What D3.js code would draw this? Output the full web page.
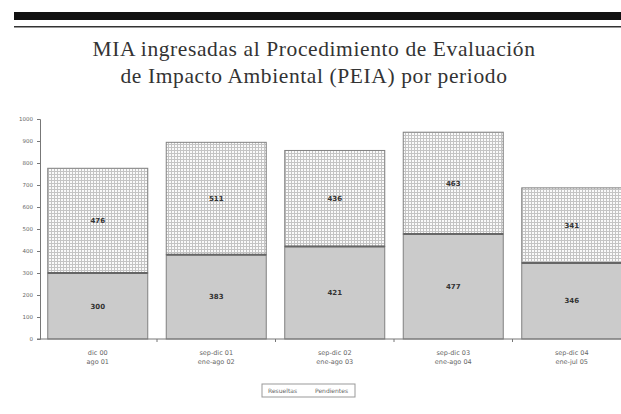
<!DOCTYPE html>
<html>
<head>
<meta charset="utf-8">
<script src="https://cdn.jsdelivr.net/npm/d3@7"></script>
<style>
  body { margin: 0; background: #fff; }
  svg { display: block; }
</style>
</head>
<body>
<svg id="chart" width="621" height="414"></svg>
<script>
// ── Data ──────────────────────────────────────────────────────────────────────
const periods = [
  ['dic 00', 'ago 01'],
  ['sep-dic 01', 'ene-ago 02'],
  ['sep-dic 02', 'ene-ago 03'],
  ['sep-dic 03', 'ene-ago 04'],
  ['sep-dic 04', 'ene-jul 05'],
];
const lower = [300, 383, 421, 477, 346];   // gray segment
const upper = [476, 511, 436, 463, 341];   // grid segment
const seriesNames = ['Resueltas', 'Pendientes'];
const yTicks = d3.range(0, 1001, 100);

// ── Layout ────────────────────────────────────────────────────────────────────
const svg = d3.select('#chart');
const W = 621, H = 414;
const x0 = 40, y0 = 339, yTop = 119;

const x = d3.scaleBand().domain(d3.range(periods.length))
  .range([38.5, 631]).paddingInner(0.156).paddingOuter(0.078);
const y = d3.scaleLinear().domain([0, 1000]).range([y0, yTop]);

// grid pattern for upper segment
const defs = svg.append('defs');
const pat = defs.append('pattern').attr('id', 'grid')
  .attr('width', 3).attr('height', 3).attr('patternUnits', 'userSpaceOnUse');
pat.append('rect').attr('width', 3).attr('height', 3).attr('fill', '#fafafa');
pat.append('path').attr('d', 'M0,0.5H3M0.5,0V3')
  .attr('stroke', '#c4c4c4').attr('stroke-width', 1);

// header rules
svg.append('rect').attr('x', 14).attr('y', 12).attr('width', W - 14).attr('height', 8).attr('fill', '#111');
svg.append('rect').attr('x', 14).attr('y', 26).attr('width', W - 14).attr('height', 1.5).attr('fill', '#333');

// title
const title = svg.append('text').attr('text-anchor', 'middle')
  .attr('font-family', 'Liberation Serif, Times New Roman, serif')
  .attr('font-size', 21.5).attr('letter-spacing', 0.6).attr('fill', '#333');
title.append('tspan').attr('x', 314).attr('y', 56).text('MIA ingresadas al Procedimiento de Evaluación');
title.append('tspan').attr('x', 314).attr('y', 83).text('de Impacto Ambiental (PEIA) por periodo');

// ── Bars ──────────────────────────────────────────────────────────────────────
const bars = svg.append('g');
periods.forEach((p, i) => {
  const bx = x(i), bw = x.bandwidth();
  const total = lower[i] + upper[i];
  bars.append('rect')
    .attr('x', bx).attr('y', y(total))
    .attr('width', bw).attr('height', y(lower[i]) - y(total))
    .attr('fill', 'url(#grid)').attr('stroke', '#808080').attr('stroke-width', 1);
  bars.append('rect')
    .attr('x', bx).attr('y', y(lower[i]))
    .attr('width', bw).attr('height', y0 - y(lower[i]))
    .attr('fill', '#cbcbcb').attr('stroke', '#808080').attr('stroke-width', 1);
  bars.append('line')
    .attr('x1', bx).attr('x2', bx + bw)
    .attr('y1', y(lower[i])).attr('y2', y(lower[i]))
    .attr('stroke', '#666').attr('stroke-width', 2);

  [[lower[i], y(lower[i] / 2)], [upper[i], y(lower[i] + upper[i] / 2)]].forEach(([v, ty]) => {
    bars.append('text')
      .attr('x', bx + bw / 2).attr('y', ty + 2.5)
      .attr('text-anchor', 'middle')
      .attr('font-family', 'DejaVu Sans, sans-serif')
      .attr('font-size', 7).attr('font-weight', 'bold').attr('fill', '#333')
      .text(v);
  });
});

// ── Axes ──────────────────────────────────────────────────────────────────────
const yAxis = svg.append('g').attr('transform', `translate(${x0},0)`)
  .call(d3.axisLeft(y).tickValues(yTicks).tickFormat(d3.format('d')).tickSize(3).tickPadding(4));
yAxis.select('.domain').attr('stroke', '#777');
yAxis.selectAll('.tick line').attr('stroke', '#777');
yAxis.selectAll('text').attr('font-family', 'DejaVu Sans, sans-serif')
  .attr('font-size', 5.5).attr('fill', '#666');

svg.append('line').attr('x1', x0 - 3).attr('x2', W)
  .attr('y1', y0).attr('y2', y0).attr('stroke', '#777').attr('stroke-width', 1);

// ticks between bars
const step = x.step();
d3.range(1, periods.length).forEach(i => {
  const tx = x(i) - (step - x.bandwidth()) / 2;
  svg.append('line').attr('x1', tx).attr('x2', tx)
    .attr('y1', y0).attr('y2', y0 + 3).attr('stroke', '#777');
});

// x labels
const xl = svg.append('g');
periods.forEach((p, i) => {
  const t = xl.append('text').attr('text-anchor', 'middle')
    .attr('font-family', 'DejaVu Sans, sans-serif')
    .attr('font-size', 6.5).attr('fill', '#666');
  p.forEach((line, k) => {
    t.append('tspan').attr('x', x(i) + x.bandwidth() / 2)
      .attr('y', 355 + k * 9).text(line);
  });
});

// ── Legend ────────────────────────────────────────────────────────────────────
const lg = svg.append('g');
lg.append('rect').attr('x', 262).attr('y', 384).attr('width', 93).attr('height', 13)
  .attr('fill', '#fff').attr('stroke', '#999');
const lx = [268, 315];
seriesNames.forEach((s, i) => {
  lg.append('text').attr('x', lx[i]).attr('y', 393)
    .attr('font-family', 'DejaVu Sans, sans-serif')
    .attr('font-size', 6).attr('fill', '#666').text(s);
});
</script>
</body>
</html>
